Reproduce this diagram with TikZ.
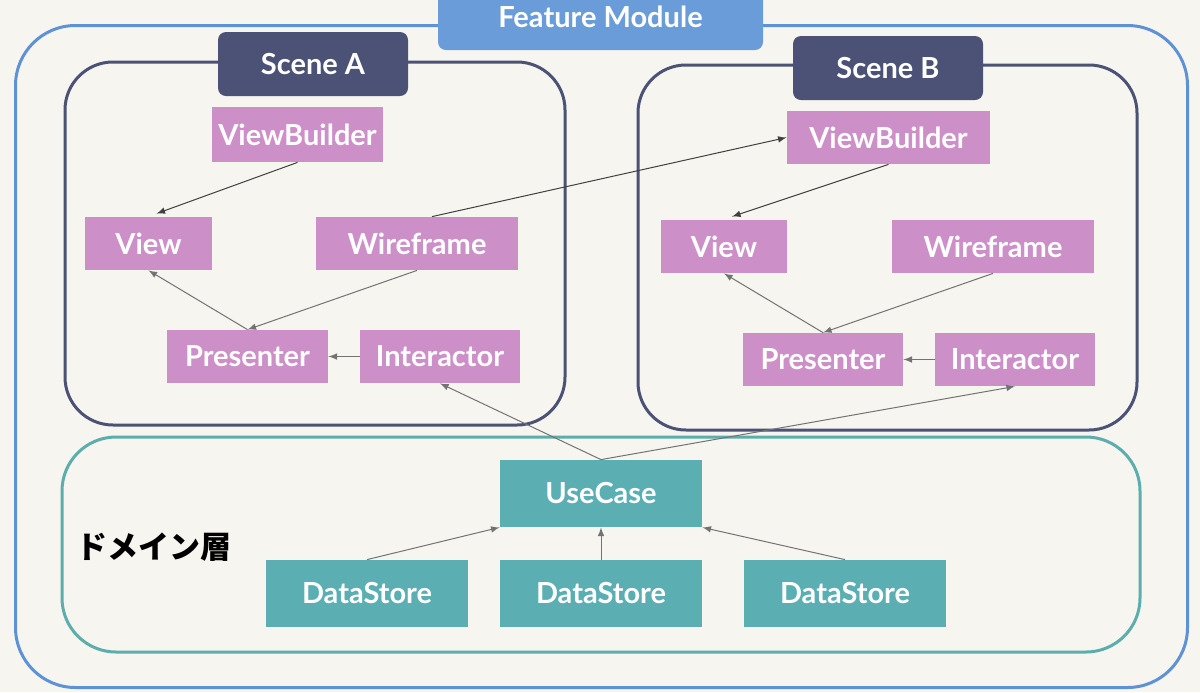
\documentclass[tikz,border=0pt]{standalone}
\usepackage{fontspec}
\setmainfont{Lato}
\newfontfamily\jpfont{Noto Sans CJK JP}
\usetikzlibrary{positioning,calc}

\definecolor{bgcol}{HTML}{F6F5F0}
\definecolor{modblue}{HTML}{5E92D4}
\definecolor{modfill}{HTML}{6A9CDA}
\definecolor{navy}{HTML}{4B5275}
\definecolor{pinkbox}{HTML}{CC8FC8}
\definecolor{tealbox}{HTML}{5BAFB3}
\definecolor{tealline}{HTML}{5CADAB}

\tikzset{
  comp/.style={fill=pinkbox,text=white,font=\bfseries\fontsize{14.5}{16}\selectfont,
    inner sep=0pt,minimum height=26.5pt},
  domcomp/.style={comp,fill=tealbox,minimum width=101pt,minimum height=33.5pt},
  scenebox/.style={draw=navy,line width=1.5pt,rounded corners=24pt,inner sep=0pt},
  scenelabel/.style={fill=navy,text=white,rounded corners=4pt,inner sep=0pt,
    font=\bfseries\fontsize{14.5}{16}\selectfont,minimum width=95pt,minimum height=32pt},
}

\begin{document}
\begin{tikzpicture}[x=0.5pt,y=-0.5pt]
  \clip (0,0) rectangle (1200,692);
  \fill[bgcol] (0,0) rectangle (1200,692);
  % frames
  \node[draw=modblue,line width=1.5pt,rounded corners=30pt,minimum width=586pt,
    minimum height=331pt,inner sep=0pt] (module) at (601.5,356.5) {};
  \node[scenebox,minimum width=250pt,minimum height=181.5pt] (sceneA) at (315,243.5) {};
  \node[scenebox,minimum width=249.5pt,minimum height=182.5pt] (sceneB) at (887.5,247.5) {};
  \node[draw=tealline,line width=1.5pt,rounded corners=27pt,minimum width=539pt,
    minimum height=107.5pt,inner sep=0pt] (domain) at (601,544.5) {};
  \node[fill=modfill,text=white,rounded corners=4pt,inner sep=0pt,
    font=\bfseries\fontsize{14.5}{16}\selectfont,minimum width=162.5pt,
    minimum height=33pt] (modlabel) at (600.5,17) {Feature Module};
  \node[scenelabel] (sceneA-label) at (313,64) {Scene A};
  \node[scenelabel] (sceneB-label) at (888,68) {Scene B};
  % scene A
  \node[comp,minimum width=85.5pt,minimum height=27.5pt] (vbA) at (297.5,134.5) {ViewBuilder};
  \node[comp,minimum width=63.5pt] (viewA) at (148.5,243.5) {View};
  \node[comp,minimum width=101pt] (wfA) at (417,243.5) {Wireframe};
  \node[comp,minimum width=80.5pt] (presA) at (247.5,356.5) {Presenter};
  \node[comp,minimum width=80pt] (intA) at (440,356.5) {Interactor};
  % scene B
  \node[comp,minimum width=101.5pt] (vbB) at (888.5,137.5) {ViewBuilder};
  \node[comp,minimum width=63pt] (viewB) at (724,246.5) {View};
  \node[comp,minimum width=101pt] (wfB) at (993,246.5) {Wireframe};
  \node[comp,minimum width=80pt] (presB) at (823,359.5) {Presenter};
  \node[comp,minimum width=80pt] (intB) at (1015,359.5) {Interactor};
  % domain
  \node[domcomp] (usecase) at (601,493.5) {UseCase};
  \node[domcomp] (dsA) at (367,593.5) {DataStore};
  \node[domcomp] (dsB) at (601,593.5) {DataStore};
  \node[domcomp] (dsC) at (845,593.5) {DataStore};
  \node[font=\jpfont\bfseries\fontsize{15.5}{17}\selectfont,inner sep=0pt] (domain-label)
    at (154,547) {ドメイン層};
  % connectors
  \begin{scope}[
    every edge/.style={draw,->,>=latex,line width=0.5pt},
    ]
    \path[black!75]
    (vbA.south) edge ($(viewA.north)+(8,-3)$)
    (vbB.south) edge ($(viewB.north)+(8,-3)$)
    ($(wfA.north)+(15,0)$) edge (vbB.west);
    \path[black!55]
    (presA.north) edge (viewA.south)
    (wfA.south) edge (presA.north)
    (intA.west) edge (presA.east)
    (presB.north) edge (viewB.south)
    (wfB.south) edge (presB.north)
    (intB.west) edge (presB.east)
    (usecase.north) edge (intA.south)
    (usecase.north) edge (intB.south)
    (dsA.north) edge (usecase.south west)
    (dsB.north) edge (usecase.south)
    (dsC.north) edge (usecase.south east);
  \end{scope}
\end{tikzpicture}
\end{document}
